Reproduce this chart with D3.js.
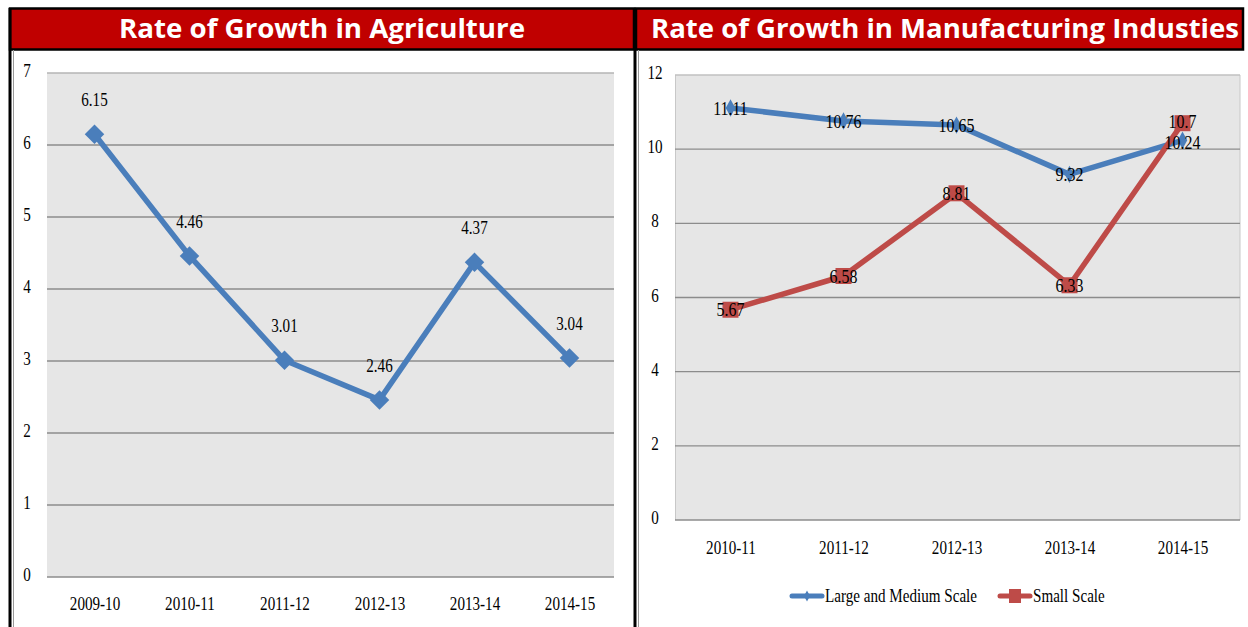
<!DOCTYPE html>
<html><head><meta charset="utf-8">
<script src="https://cdn.jsdelivr.net/npm/d3@7"></script>
<style>
html,body{margin:0;padding:0;background:#fff;}
svg{display:block;}
</style></head>
<body>
<svg id="c" width="1248" height="627"></svg>
<script>
// ---- data ----
const agriYears = ["2009-10","2010-11","2011-12","2012-13","2013-14","2014-15"];
const agriValues = [6.15, 4.46, 3.01, 2.46, 4.37, 3.04];
const agriTicks = [0,1,2,3,4,5,6,7];

const mfgYears = ["2010-11","2011-12","2012-13","2013-14","2014-15"];
const largeMedium = [11.11, 10.76, 10.65, 9.32, 10.24];
const smallScale = [5.67, 6.58, 8.81, 6.33, 10.7];
const mfgTicks = [0,2,4,6,8,10,12];
const seriesNames = ["Large and Medium Scale", "Small Scale"];
const titles = ["Rate of Growth in Agriculture", "Rate of Growth in Manufacturing Industies"];

const BLUE = "#4a7ebb", RED = "#be4b48";
const tickFont = "'Liberation Serif', 'DejaVu Serif', serif";
const SX = 0.84; // horizontal condensing of the serif text
const svg = d3.select("#c");

function ctext(sel, x, y){
  return sel.attr("x", x / SX).attr("y", y).attr("transform", `scale(${SX},1)`);
}
function styleTicks(sel, size){
  sel.attr("font-family",tickFont).attr("font-size",size).attr("fill","#000")
     .attr("transform",`scale(${SX},1)`);
}

// ---- frames ----
svg.append("rect").attr("x",10).attr("y",8.5).attr("width",624).attr("height",41).attr("fill","#c00000").attr("stroke","#000").attr("stroke-width",2.5);
svg.append("rect").attr("x",636).attr("y",8.5).attr("width",607).attr("height",41).attr("fill","#c00000").attr("stroke","#000").attr("stroke-width",2.5);
svg.append("line").attr("x1",10).attr("x2",10).attr("y1",8).attr("y2",627).attr("stroke","#000").attr("stroke-width",3);
svg.append("line").attr("x1",13.5).attr("x2",13.5).attr("y1",50).attr("y2",627).attr("stroke","#999").attr("stroke-width",1);
svg.append("line").attr("x1",635).attr("x2",635).attr("y1",8).attr("y2",627).attr("stroke","#000").attr("stroke-width",3);
svg.append("line").attr("x1",638.5).attr("x2",638.5).attr("y1",50).attr("y2",627).attr("stroke","#999").attr("stroke-width",1);

svg.append("text").attr("x",322).attr("y",38).attr("text-anchor","middle")
  .attr("font-family","'Open Sans', 'Noto Sans', sans-serif").attr("font-weight","bold")
  .attr("font-size",27).attr("fill","#fff").attr("textLength",406).attr("lengthAdjust","spacingAndGlyphs")
  .text(titles[0]);
svg.append("text").attr("x",945).attr("y",38).attr("text-anchor","middle")
  .attr("font-family","'Open Sans', 'Noto Sans', sans-serif").attr("font-weight","bold")
  .attr("font-size",27).attr("fill","#fff").attr("textLength",588).attr("lengthAdjust","spacingAndGlyphs")
  .text(titles[1]);

// ---- left chart ----
{
  const x = d3.scalePoint().domain(agriYears).range([47,617]).padding(0.5);
  const y = d3.scaleLinear().domain([0,7]).range([577,73]);
  const g = svg.append("g");
  g.append("rect").attr("x",47).attr("y",y(7)).attr("width",567).attr("height",y(0)-y(7)).attr("fill","#e6e6e6");
  g.selectAll(".grid").data(agriTicks).join("line")
    .attr("x1",47).attr("x2",614).attr("y1",d=>y(d)).attr("y2",d=>y(d))
    .attr("stroke",d=>d===7?"#b4b4b4":"#8c8c8c").attr("stroke-width",1.3);
  const ya = d3.axisLeft(y).tickValues(agriTicks).tickFormat(d3.format("d")).tickSize(0).tickPadding(0);
  const yg = g.append("g").attr("transform","translate(27,0)").call(ya);
  yg.select(".domain").remove();
  yg.selectAll("text").call(styleTicks, 18).attr("text-anchor","middle").attr("dy","0.2em").attr("x",0);
  const xa = d3.axisBottom(x).tickSize(0).tickPadding(0);
  const xg = g.append("g").attr("transform","translate(0,597)").call(xa);
  xg.select(".domain").remove();
  xg.selectAll("text").call(styleTicks, 18).attr("dy","0.7em");

  const pts = agriYears.map((c,i)=>({c, v:agriValues[i]}));
  g.append("path").datum(pts).attr("fill","none").attr("stroke",BLUE).attr("stroke-width",5.5).attr("stroke-linejoin","round")
    .attr("d", d3.line().x(d=>x(d.c)).y(d=>y(d.v)));
  g.selectAll(".m").data(pts).join("path")
    .attr("d", d3.symbol().type(d3.symbolSquare).size(190)).attr("fill",BLUE)
    .attr("transform",d=>`translate(${x(d.c)},${y(d.v)}) rotate(45)`);
  g.selectAll(".lbl").data(pts).join("text")
    .each(function(d){ ctext(d3.select(this), x(d.c), y(d.v)-28); })
    .attr("text-anchor","middle")
    .attr("font-family",tickFont).attr("font-size",18).attr("fill","#000").text(d=>d.v.toFixed(2));
}

// ---- right chart ----
{
  const x = d3.scalePoint().domain(mfgYears).range([674,1239]).padding(0.5);
  const y = d3.scaleLinear().domain([0,12]).range([520,75]);
  const g = svg.append("g");
  g.append("rect").attr("x",675).attr("y",y(12)).attr("width",565).attr("height",y(0)-y(12)).attr("fill","#e6e6e6");
  g.append("line").attr("x1",675.5).attr("x2",675.5).attr("y1",y(12)).attr("y2",y(0)).attr("stroke","#c8c8c8");
  g.append("line").attr("x1",1240).attr("x2",1240).attr("y1",y(12)).attr("y2",y(0)).attr("stroke","#c8c8c8");
  g.selectAll(".grid").data(mfgTicks).join("line")
    .attr("x1",675).attr("x2",1240).attr("y1",d=>y(d)).attr("y2",d=>y(d))
    .attr("stroke",d=>d===12?"#c0c0c0":"#8c8c8c").attr("stroke-width",1.3);
  const ya = d3.axisLeft(y).tickValues(mfgTicks).tickFormat(d3.format("d")).tickSize(0).tickPadding(0);
  const yg = g.append("g").attr("transform","translate(655,0)").call(ya);
  yg.select(".domain").remove();
  yg.selectAll("text").call(styleTicks, 18).attr("text-anchor","middle").attr("dy","0.2em").attr("x",0);
  const xa = d3.axisBottom(x).tickSize(0).tickPadding(0);
  const xg = g.append("g").attr("transform","translate(0,541)").call(xa);
  xg.select(".domain").remove();
  xg.selectAll("text").call(styleTicks, 18).attr("dy","0.7em");

  const series = [
    {name:seriesNames[0], color:BLUE, vals:largeMedium, shape:"diamond"},
    {name:seriesNames[1], color:RED, vals:smallScale, shape:"square"}
  ];
  series.forEach(s=>{
    const pts = mfgYears.map((c,i)=>({c, v:s.vals[i]}));
    g.append("path").datum(pts).attr("fill","none").attr("stroke",s.color).attr("stroke-width",5.5).attr("stroke-linejoin","round")
      .attr("d", d3.line().x(d=>x(d.c)).y(d=>y(d.v)));
    if (s.shape==="diamond") {
      g.selectAll(null).data(pts).join("path")
        .attr("d", d3.symbol().type(d3.symbolSquare).size(150)).attr("fill",s.color)
        .attr("transform",d=>`translate(${x(d.c)},${y(d.v)}) scale(0.55,1) rotate(45)`);
    } else {
      g.selectAll(null).data(pts).join("rect")
        .attr("x",d=>x(d.c)-8).attr("y",d=>y(d.v)-8).attr("width",16).attr("height",16).attr("fill",s.color);
    }
  });
  // labels centred on points; nudge apart where two labels at one category collide
  const lblPts = [];
  mfgYears.forEach((c,i)=>{
    const a = {c, v:largeMedium[i], py:y(largeMedium[i])};
    const b = {c, v:smallScale[i], py:y(smallScale[i])};
    const gap = Math.abs(a.py - b.py), minGap = 21;
    if (gap < minGap) {
      const push = (minGap - gap)/2;
      const [up, dn] = a.py < b.py ? [a,b] : [b,a];
      up.py -= push; dn.py += push;
    }
    lblPts.push(a, b);
  });
  g.selectAll(".lbl").data(lblPts).join("text")
    .each(function(d){ ctext(d3.select(this), x(d.c), d.py); })
    .attr("dy","0.35em").attr("text-anchor","middle")
    .attr("font-family",tickFont).attr("font-size",19).attr("fill","#000")
    .text(d=>String(d.v));

  // legend
  const lg = g.append("g");
  const items = [{x:792, s:series[0]}, {x:1000, s:series[1]}];
  items.forEach(it=>{
    lg.append("line").attr("x1",it.x).attr("x2",it.x+30).attr("y1",596).attr("y2",596)
      .attr("stroke",it.s.color).attr("stroke-width",5).attr("stroke-linecap","round");
    if (it.s.shape==="diamond") {
      lg.append("path").attr("d", d3.symbol().type(d3.symbolSquare).size(60)())
        .attr("fill",it.s.color).attr("transform",`translate(${it.x+15},596) scale(0.55,1) rotate(45)`);
    } else {
      lg.append("rect").attr("x",it.x+9).attr("y",589).attr("width",12).attr("height",14).attr("fill",it.s.color);
    }
    lg.append("text").call(s=>ctext(s, it.x+33, 596)).attr("dy","0.35em")
      .attr("font-family",tickFont).attr("font-size",18).attr("fill","#000").text(it.s.name);
  });
}
</script>
</body></html>
